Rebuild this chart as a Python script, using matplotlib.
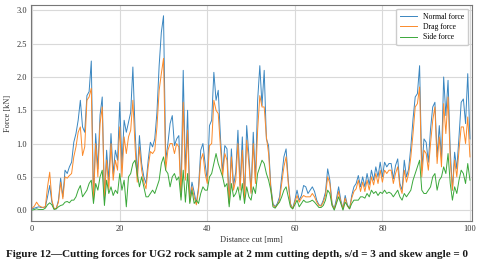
import numpy as np
import matplotlib
matplotlib.use('Agg')
import matplotlib.pyplot as plt

# Distancia de corte [mm], paso de 0.5 mm
distancia = np.arange(0, 100.5, 0.5)

# Fuerza normal [kN]
normal = [
    0.02, 0.03, 0.04, 0.05, 0.04, 0.04, 0.05, 0.20, 0.37, 0.12, 0.02, 0.02, 0.15, 0.48, 0.20, 0.60, 0.55, 0.65, 0.72, 1.02,
    1.15, 1.35, 1.65, 1.25, 1.17, 1.72, 1.78, 2.24, 0.15, 1.15, 0.62, 1.43, 1.70, 0.15, 0.90, 0.45, 1.15, 0.55, 0.90, 0.75,
    1.62, 0.67, 1.35, 1.17, 1.32, 1.47, 2.15, 1.20, 0.52, 1.12, 0.70, 0.50, 0.40, 0.75, 1.02, 0.95, 1.07, 1.47, 2.17, 2.67,
    2.92, 0.75, 1.00, 1.30, 1.42, 0.97, 1.07, 1.12, 0.27, 2.10, 0.55, 1.50, 0.17, 0.42, 0.27, 0.10, 0.35, 0.90, 1.00, 0.70,
    0.45, 1.27, 1.35, 2.07, 1.65, 1.80, 1.10, 0.57, 0.97, 0.92, 0.12, 0.92, 0.37, 0.57, 1.20, 0.37, 1.10, 0.17, 1.27, 0.82,
    0.27, 1.17, 0.45, 1.65, 2.17, 1.57, 2.10, 1.07, 0.97, 0.37, 0.10, 0.05, 0.10, 0.20, 0.50, 0.80, 0.92, 0.45, 0.10, 0.02,
    0.15, 0.30, 0.15, 0.22, 0.37, 0.35, 0.25, 0.30, 0.35, 0.28, 0.15, 0.08, 0.07, 0.15, 0.27, 0.62, 0.45, 0.10, 0.02, 0.17,
    0.35, 0.15, 0.02, 0.22, 0.08, 0.02, 0.22, 0.35, 0.40, 0.52, 0.35, 0.50, 0.35, 0.55, 0.38, 0.60, 0.45, 0.65, 0.50, 0.72,
    0.50, 0.72, 0.65, 0.70, 0.70, 0.47, 0.67, 0.77, 0.40, 0.30, 0.75, 0.50, 0.62, 0.95, 1.37, 1.70, 1.75, 2.17, 0.60, 1.07,
    1.02, 0.72, 1.22, 1.55, 1.62, 0.80, 1.27, 0.77, 2.00, 1.42, 1.95, 0.90, 0.30, 0.87, 0.62, 1.10, 1.62, 1.67, 1.30, 2.05,
    1.07,
]

# Fuerza de arrastre [kN]
arrastre = [
    0.03, 0.06, 0.12, 0.07, 0.05, 0.04, 0.05, 0.35, 0.57, 0.15, 0.02, 0.03, 0.12, 0.42, 0.17, 0.50, 0.48, 0.52, 0.55, 0.80,
    0.95, 1.17, 1.25, 0.82, 0.95, 1.65, 1.70, 1.83, 0.12, 1.00, 0.50, 1.30, 1.55, 0.20, 0.75, 0.30, 1.00, 0.45, 0.75, 0.60,
    1.25, 0.50, 1.10, 0.85, 1.10, 1.20, 1.65, 0.95, 0.42, 0.95, 0.60, 0.42, 0.32, 0.65, 0.88, 0.85, 0.90, 1.25, 1.80, 2.05,
    2.28, 0.60, 0.90, 1.00, 1.00, 0.85, 1.00, 0.95, 0.20, 1.62, 0.45, 1.20, 0.12, 0.35, 0.20, 0.08, 0.30, 0.75, 0.85, 0.55,
    0.40, 0.97, 1.00, 1.65, 1.50, 1.45, 0.95, 0.50, 0.85, 0.75, 0.10, 0.80, 0.30, 0.45, 1.00, 0.30, 0.90, 0.15, 1.05, 0.70,
    0.25, 1.00, 0.40, 1.20, 1.72, 1.55, 1.55, 1.10, 0.85, 0.33, 0.08, 0.04, 0.08, 0.15, 0.40, 0.65, 0.80, 0.40, 0.08, 0.02,
    0.12, 0.22, 0.12, 0.18, 0.22, 0.20, 0.20, 0.20, 0.25, 0.20, 0.12, 0.07, 0.06, 0.12, 0.22, 0.50, 0.40, 0.08, 0.02, 0.12,
    0.28, 0.12, 0.02, 0.18, 0.06, 0.02, 0.18, 0.28, 0.32, 0.45, 0.28, 0.42, 0.28, 0.45, 0.30, 0.50, 0.38, 0.55, 0.40, 0.60,
    0.42, 0.60, 0.55, 0.60, 0.60, 0.40, 0.55, 0.65, 0.35, 0.25, 0.60, 0.42, 0.55, 0.80, 1.15, 1.55, 1.60, 1.85, 0.50, 0.90,
    0.85, 0.60, 1.00, 1.35, 1.55, 0.70, 1.10, 0.65, 1.60, 1.15, 1.70, 0.75, 0.30, 0.75, 0.50, 0.90, 1.25, 1.25, 1.00, 1.40,
    0.80,
]

# Fuerza lateral [kN]
lateral = [
    0.00, 0.01, 0.02, 0.01, 0.01, 0.01, 0.03, 0.08, 0.11, 0.08, 0.01, 0.02, 0.05, 0.07, 0.08, 0.12, 0.13, 0.11, 0.15, 0.15,
    0.20, 0.30, 0.37, 0.20, 0.25, 0.30, 0.40, 0.45, 0.10, 0.40, 0.30, 0.50, 0.60, 0.07, 0.45, 0.25, 0.35, 0.22, 0.30, 0.25,
    0.55, 0.30, 0.45, 0.05, 0.50, 0.55, 0.70, 0.75, 0.55, 0.35, 0.50, 0.35, 0.20, 0.20, 0.25, 0.30, 0.25, 0.35, 0.45, 0.70,
    0.80, 0.60, 0.55, 0.35, 0.50, 0.55, 0.45, 0.50, 0.15, 0.60, 0.12, 0.55, 0.10, 0.30, 0.10, 0.15, 0.10, 0.25, 0.35, 0.30,
    0.30, 0.50, 0.55, 0.70, 0.85, 0.70, 0.60, 0.50, 0.35, 0.40, 0.05, 0.40, 0.20, 0.25, 0.35, 0.15, 0.40, 0.10, 0.35, 0.20,
    0.15, 0.35, 0.25, 0.55, 0.65, 0.75, 0.70, 0.55, 0.45, 0.30, 0.05, 0.03, 0.08, 0.12, 0.20, 0.30, 0.35, 0.20, 0.05, 0.02,
    0.08, 0.15, 0.05, 0.10, 0.15, 0.12, 0.12, 0.13, 0.15, 0.12, 0.08, 0.04, 0.04, 0.07, 0.15, 0.30, 0.25, 0.07, 0.00, 0.10,
    0.20, 0.10, 0.00, 0.12, 0.07, 0.02, 0.10, 0.15, 0.15, 0.15, 0.20, 0.20, 0.18, 0.25, 0.20, 0.30, 0.25, 0.28, 0.22, 0.27,
    0.25, 0.30, 0.25, 0.27, 0.25, 0.20, 0.25, 0.30, 0.20, 0.15, 0.25, 0.20, 0.25, 0.30, 0.45, 0.55, 0.65, 0.75, 0.30, 0.25,
    0.25, 0.30, 0.35, 0.50, 0.55, 0.30, 0.45, 0.50, 0.65, 0.55, 0.85, 0.40, 0.15, 0.35, 0.25, 0.45, 0.60, 0.55, 0.40, 0.70,
    0.45,
]

plt.rcParams['font.family'] = ['Liberation Serif', 'DejaVu Serif']

fig = plt.figure(figsize=(4.86, 2.69), dpi=100)
ax = fig.add_axes([0.064, 0.178, 0.907, 0.803])

ax.plot(distancia, normal, color='#3a86c0', lw=0.7, label='Normal force')
ax.plot(distancia, arrastre, color='#fb8a2a', lw=0.7, label='Drag force')
ax.plot(distancia, lateral, color='#3aa83a', lw=0.7, label='Side force')

ax.set_xlim(-0.25, 100.45)
ax.set_ylim(-0.165, 3.08)
ax.set_xticks([0, 20, 40, 60, 80, 100])
ax.set_yticks([0.0, 0.5, 1.0, 1.5, 2.0, 2.5, 3.0])
ax.grid(True, color='#d9d9d9', lw=0.8)
ax.set_axisbelow(True)
ax.tick_params(length=0, labelsize=6, pad=3, labelcolor='#333333')
for s in ax.spines.values():
    s.set_color('#777777')
    s.set_linewidth(0.8)

ax.set_xlabel('Distance cut [mm]', fontsize=6, labelpad=2, color='#333333')
ax.set_ylabel('Force [kN]', fontsize=6, labelpad=3, color='#333333')

ax.legend(loc='upper right', fontsize=5.5, frameon=True, framealpha=1,
          edgecolor='#cccccc', fancybox=True, handlelength=2.2,
          borderpad=0.5, labelspacing=0.3)

fig.text(0.012, 0.045, 'Figure 12\u2014Cutting forces for UG2 rock sample at 2 mm cutting depth, s/d = 3 and skew angle = 0',
         fontsize=8.0, fontweight='bold', color='#1a1a1a', ha='left', va='baseline')

fig.savefig('out.png', dpi=100)
